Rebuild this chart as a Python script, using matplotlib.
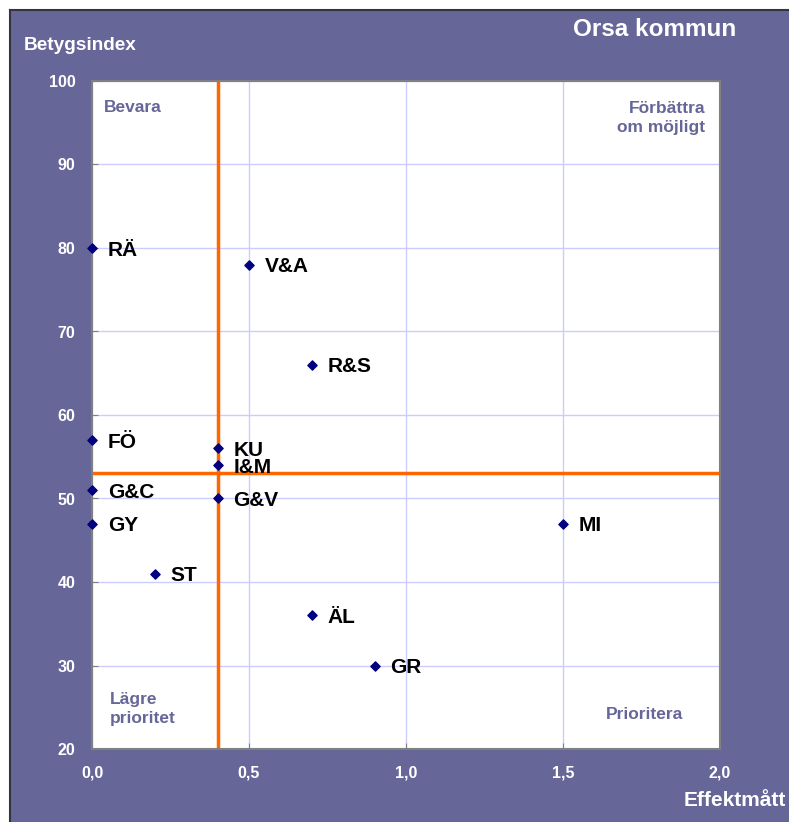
import matplotlib
matplotlib.use("Agg")
import matplotlib.pyplot as plt
from matplotlib.patches import Rectangle

plt.rcParams['font.family'] = ['Liberation Sans', 'DejaVu Sans']

labels = ["RÄ", "V&A", "R&S", "FÖ", "KU", "I&M", "G&C", "G&V", "GY", "MI", "ST", "ÄL", "GR"]
effekt = [0.0, 0.5, 0.7, 0.0, 0.4, 0.4, 0.0, 0.4, 0.0, 1.5, 0.2, 0.7, 0.9]
betyg = [80, 78, 66, 57, 56, 54, 51, 50, 47, 47, 41, 36, 30]
x_split = 0.4
y_split = 53
xticks = [0.0, 0.5, 1.0, 1.5, 2.0]
xticklabels = ["0,0", "0,5", "1,0", "1,5", "2,0"]
yticks = [20, 30, 40, 50, 60, 70, 80, 90, 100]

PURPLE = "#666699"
W, H = 789, 822
fig = plt.figure(figsize=(W / 100, H / 100), dpi=100, facecolor=PURPLE)
fig.patches.append(Rectangle((0, 1 - 10 / H), 1, 10 / H, transform=fig.transFigure,
                             facecolor="white", edgecolor="none", zorder=0))
fig.patches.append(Rectangle((0, 0), 10 / W, 1, transform=fig.transFigure,
                             facecolor="white", edgecolor="none", zorder=0))
fig.add_artist(plt.Line2D([10 / W, 10 / W], [0, 1 - 10.5 / H], color="#333344", lw=1.5, transform=fig.transFigure))
fig.add_artist(plt.Line2D([10 / W, 1], [1 - 10.5 / H, 1 - 10.5 / H], color="#333344", lw=1.5, transform=fig.transFigure))

ax = fig.add_axes([92 / W, (H - 749) / H, (720 - 92) / W, (749 - 81) / H])
ax.set_facecolor("white")
ax.set_xlim(0, 2)
ax.set_ylim(20, 100)
ax.set_xticks(xticks)
ax.set_xticklabels(xticklabels)
ax.set_yticks(yticks)
ax.grid(True, color="#CCCCFF", lw=1)
ax.set_axisbelow(True)
for s in ax.spines.values():
    s.set_color("#808080")
    s.set_linewidth(1.5)
ax.tick_params(direction="in", length=4, color="#808080", labelcolor="white",
               labelsize=11.5, pad=12)
for t in ax.get_xticklabels() + ax.get_yticklabels():
    t.set_fontweight("bold")

ax.axvline(x_split, color="#FF6600", lw=2.5, zorder=2)
ax.axhline(y_split, color="#FF6600", lw=2.5, zorder=2)

ax.scatter(effekt, betyg, marker="D", s=22, color="#000080", zorder=5, clip_on=False)
for lab, xv, yv in zip(labels, effekt, betyg):
    ax.annotate(lab, (xv, yv), xytext=(11.5, -1.5), textcoords="offset points",
                ha="left", va="center", fontsize=15, fontweight="bold", color="black", zorder=6)

qkw = dict(transform=ax.transAxes, fontsize=12.5, fontweight="bold", color=PURPLE)
ax.text(12 / 628, 1 - 26 / 668, "Bevara", ha="left", va="center", **qkw)
ax.text(1 - 15 / 628, 1 - 37 / 668, "Förbättra\nom möjligt", ha="right", va="center", linespacing=1.35, **qkw)
ax.text(18 / 628, 40 / 668, "Lägre\nprioritet", ha="left", va="center", linespacing=1.35, **qkw)
ax.text(1 - 37 / 628, 35 / 668, "Prioritera", ha="right", va="center", **qkw)

fig.text(24 / W, 1 - 45 / H, "Betygsindex", ha="left", va="center", fontsize=13.7,
         fontweight="bold", color="white")
fig.text(736 / W, 1 - 30 / H, "Orsa kommun", ha="right", va="center", fontsize=17.5,
         fontweight="bold", color="white")
fig.text(786 / W, 1 - 800 / H, "Effektmått", ha="right", va="center", fontsize=15,
         fontweight="bold", color="white")

fig.savefig("out.png", dpi=100, facecolor=PURPLE)
